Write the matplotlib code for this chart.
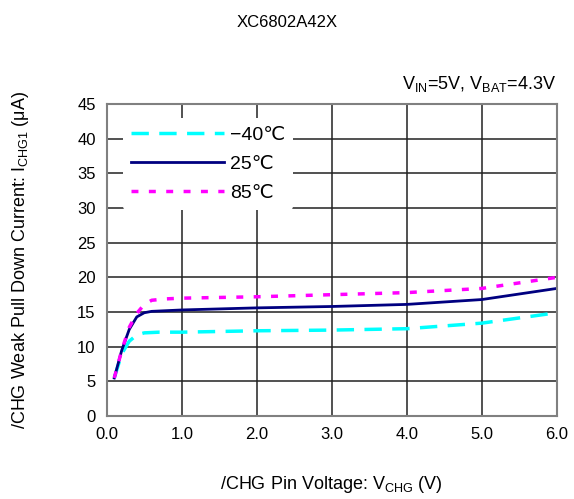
import matplotlib
matplotlib.use("Agg")
import matplotlib.pyplot as plt

plt.rcParams['font.family'] = ['Liberation Sans', 'DejaVu Sans']
plt.rcParams['mathtext.fontset'] = 'custom'
plt.rcParams['mathtext.rm'] = 'Liberation Sans'

# data
x_m40 = [0.1, 0.2, 0.3, 0.4, 0.5, 0.7, 1.0, 2.0, 3.0, 4.0, 5.0, 6.0]
y_m40 = [5.5, 9.0, 10.8, 11.7, 12.0, 12.1, 12.1, 12.3, 12.4, 12.6, 13.4, 14.9]
x_25 = [0.1, 0.2, 0.3, 0.4, 0.5, 0.6, 0.8, 1.0, 2.0, 3.0, 4.0, 5.0, 6.0]
y_25 = [5.5, 9.5, 12.5, 14.3, 14.9, 15.1, 15.2, 15.3, 15.6, 15.8, 16.1, 16.8, 18.4]
x_85 = [0.1, 0.2, 0.3, 0.4, 0.5, 0.6, 0.8, 1.0, 2.0, 3.0, 4.0, 5.0, 6.0]
y_85 = [5.5, 9.5, 12.8, 14.8, 16.1, 16.7, 16.9, 17.0, 17.2, 17.5, 17.8, 18.4, 20.0]

xticks = [0, 1, 2, 3, 4, 5, 6]
yticks = [0, 5, 10, 15, 20, 25, 30, 35, 40, 45]

fig = plt.figure(figsize=(5.74, 4.99), dpi=100)
ax = fig.add_axes([0.186, 0.166, 0.784, 0.626])

ax.plot(x_m40, y_m40, color='#00ffff', lw=2.5, dashes=(5, 3), label='\u221240\u2103')
ax.plot(x_25, y_25, color='#000080', lw=2, label='25\u2103')
ax.plot(x_85, y_85, color='#ff00ff', lw=2.5, dashes=(2, 3), label='85\u2103')

ax.set_xlim(0, 6)
ax.set_ylim(0, 45)
ax.set_xticks(xticks)
ax.set_xticklabels(['%.1f' % v for v in xticks])
ax.set_yticks(yticks)
ax.tick_params(labelsize=12, length=0, pad=8)
ax.grid(True, color='#222222', lw=1.1)
for s in ax.spines.values():
    s.set_color('#808080')
    s.set_linewidth(1.5)

ax.set_xlabel('/CHG Pin Voltage: V$_{\\mathregular{CHG}}$ (V)', fontsize=13, labelpad=23)
ax.set_ylabel('/CHG Weak Pull Down Current: I$_{\\mathregular{CHG1}}$ (\u03bcA)', fontsize=13, labelpad=33)
fig.text(0.5, 0.955, 'XC6802A42X', ha='center', va='center', fontsize=12)
ax.text(1.0, 1.03, 'V$_{\\mathregular{IN}}$=5V, V$_{\\mathregular{BAT}}$=4.3V', transform=ax.transAxes,
        ha='right', va='bottom', fontsize=13)

leg = ax.legend(loc='upper left', bbox_to_anchor=(0.015, 0.985), frameon=True, fontsize=14,
                handlelength=4.8, handletextpad=0.3, labelspacing=0.6, borderaxespad=0.5)
leg.get_frame().set_edgecolor('none')
leg.get_frame().set_facecolor('white')
leg.get_frame().set_alpha(1)

fig.savefig('out.png', dpi=100)
